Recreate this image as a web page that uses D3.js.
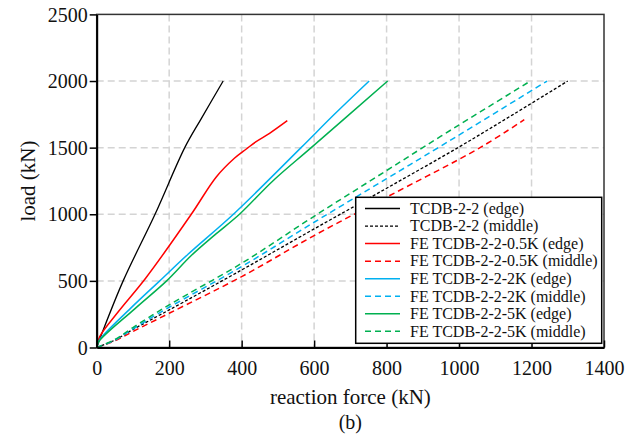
<!DOCTYPE html>
<html>
<head>
<meta charset="utf-8">
<script src="https://cdn.jsdelivr.net/npm/d3@7"></script>
<style>
  html, body { margin: 0; padding: 0; background: #fff; }
  svg { display: block; }
  svg text { font-family: "Liberation Serif", "Times New Roman", Times, "DejaVu Serif", serif; }
</style>
</head>
<body>
<svg id="chart" width="639" height="436"></svg>
<script>
// ---- data (reaction force kN, load kN) ----
const xTicks = [0, 200, 400, 600, 800, 1000, 1200, 1400];
const yTicks = [0, 500, 1000, 1500, 2000, 2500];

const tcdbEdge   = [[0,0],[15,110],[73,500],[161,1000],[243,1500],[289,1720],[349,2000]];
const tcdbMiddle = [[0,0],[50,55],[100,135],[200,282],[400,582],[600,890],[800,1195],[1000,1505],[1150,1750],[1300,2000]];
const fe05Edge   = [[0,0],[8,80],[60,270],[135,520],[261,1000],[330,1280],[380,1420],[413,1490],[440,1545],[477,1607],[526,1702]];
const fe05Middle = [[0,0],[50,50],[100,120],[200,257],[400,532],[600,840],[800,1128],[1058,1500],[1180,1710]];
const fe2Edge    = [[0,0],[6,50],[92,290],[174,500],[252,700],[381,1010],[564,1500],[656,1750],[752,2000]];
const fe2Middle  = [[0,0],[50,55],[100,140],[200,302],[400,607],[600,940],[800,1267],[950,1512],[1243,2000]];
const fe5Edge    = [[0,0],[6,45],[105,290],[193,500],[261,690],[326,845],[394,1000],[486,1250],[592,1500],[803,2000]];
const fe5Middle  = [[0,0],[50,60],[100,150],[200,320],[400,632],[600,985],[800,1328],[950,1586],[1197,2000]];

const seriesNames = [
  "TCDB-2-2 (edge)", "TCDB-2-2 (middle)",
  "FE TCDB-2-2-0.5K (edge)", "FE TCDB-2-2-0.5K (middle)",
  "FE TCDB-2-2-2K (edge)", "FE TCDB-2-2-2K (middle)",
  "FE TCDB-2-2-5K (edge)", "FE TCDB-2-2-5K (middle)"
];
const seriesData = [tcdbEdge, tcdbMiddle, fe05Edge, fe05Middle, fe2Edge, fe2Middle, fe5Edge, fe5Middle];
const seriesColors = ["#000000", "#000000", "#ff0000", "#ff0000", "#00b0f0", "#00b0f0", "#00b050", "#00b050"];

// ---- layout ----
const FONT = "'Liberation Serif', 'Times New Roman', Times, 'DejaVu Serif', serif";
const svg = d3.select("#chart");
const pL = 96.7, pR = 604, pT = 14.4, pB = 347.5;
const x = d3.scaleLinear().domain([0, 1400]).range([pL, pR]);
const y = d3.scaleLinear().domain([0, 2500]).range([pB, pT]);

// grid
const grid = svg.append("g");
grid.selectAll("line.vg").data(xTicks.filter(t => t > 0 && t < 1400)).enter().append("line")
  .attr("x1", d => x(d)).attr("x2", d => x(d)).attr("y1", pT).attr("y2", pB)
  .attr("stroke", "#d4d4d4").attr("stroke-width", 1.5).attr("stroke-dasharray", "7,4");
grid.selectAll("line.hg").data(yTicks.filter(t => t > 0 && t < 2500)).enter().append("line")
  .attr("x1", pL).attr("x2", pR).attr("y1", d => y(d)).attr("y2", d => y(d))
  .attr("stroke", "#d4d4d4").attr("stroke-width", 1.5).attr("stroke-dasharray", "7,4");

// series
const line = d3.line().x(d => x(d[0])).y(d => y(d[1])).curve(d3.curveCatmullRom.alpha(0.5));
const dashFor = i => (i % 2 === 0) ? null : (i === 1 ? "3,2" : "6,4");
seriesData.forEach((data, i) => {
  svg.append("path").datum(data)
    .attr("d", line)
    .attr("fill", "none")
    .attr("stroke", seriesColors[i])
    .attr("stroke-width", i < 2 ? 1.3 : 1.5)
    .attr("stroke-dasharray", dashFor(i));
});

// frame
svg.append("rect").attr("x", pL).attr("y", pT).attr("width", pR - pL).attr("height", pB - pT)
  .attr("fill", "none").attr("stroke", "#333").attr("stroke-width", 1.5);

// axes
const fmt = d3.format("d");
const xAxis = d3.axisBottom(x).tickValues(xTicks).tickFormat(fmt).tickSizeInner(-7).tickSizeOuter(0).tickPadding(15);
const gx = svg.append("g").attr("transform", `translate(0,${pB})`).call(xAxis).attr("font-family", FONT);
gx.select(".domain").attr("stroke", "#000").attr("stroke-width", 2);
gx.selectAll(".tick line").attr("stroke", "#000").attr("stroke-width", 1.5);
gx.selectAll(".tick text").attr("font-size", 20).attr("fill", "#111")
  .attr("font-family", FONT).attr("dy", null).attr("y", 27.5);

const yAxis = d3.axisLeft(y).tickValues(yTicks).tickFormat(fmt).tickSizeInner(7).tickSizeOuter(0).tickPadding(2);
const gy = svg.append("g").attr("transform", `translate(${pL},0)`).call(yAxis).attr("font-family", FONT);
gy.select(".domain").attr("stroke", "#000").attr("stroke-width", 2);
gy.selectAll(".tick line").attr("stroke", "#000").attr("stroke-width", 1.5);
gy.selectAll(".tick text").attr("font-size", 20).attr("fill", "#111")
  .attr("font-family", FONT).attr("dy", "0.33em").attr("x", -9);

// axis titles
svg.append("text").attr("x", (pL + pR) / 2).attr("y", 404).attr("text-anchor", "middle")
  .attr("font-family", FONT).attr("font-size", 21).attr("fill", "#111").text("reaction force (kN)");
svg.append("text").attr("transform", "translate(35,181) rotate(-90)").attr("text-anchor", "middle")
  .attr("font-family", FONT).attr("font-size", 21).attr("fill", "#111").text("load (kN)");
svg.append("text").attr("x", (pL + pR) / 2).attr("y", 429).attr("text-anchor", "middle")
  .attr("font-family", FONT).attr("font-size", 20).attr("fill", "#111").text("(b)");

// legend
const lg = svg.append("g");
lg.append("rect").attr("x", 355.7).attr("y", 197.3).attr("width", 246).attr("height", 146)
  .attr("fill", "#fff").attr("stroke", "#000").attr("stroke-width", 1.5);
seriesNames.forEach((name, i) => {
  const cy = 208.5 + i * 17.55;
  lg.append("line").attr("x1", 365).attr("x2", 400).attr("y1", cy).attr("y2", cy)
    .attr("stroke", seriesColors[i]).attr("stroke-width", i < 2 ? 1.3 : 1.5)
    .attr("stroke-dasharray", dashFor(i));
  lg.append("text").attr("x", 410).attr("y", cy).attr("dy", "0.33em")
    .attr("font-family", FONT).attr("font-size", 16).attr("fill", "#111").text(name);
});
</script>
</body>
</html>
